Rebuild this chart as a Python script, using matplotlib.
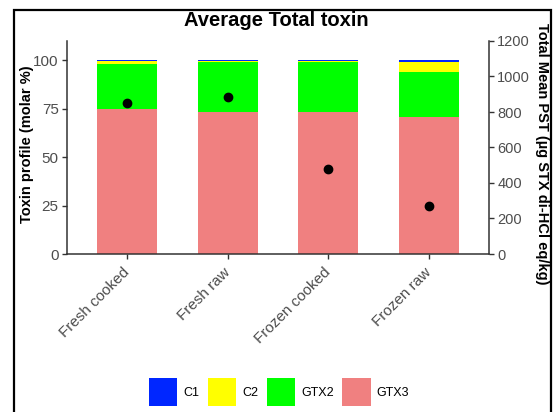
import matplotlib
matplotlib.use("Agg")
import matplotlib.pyplot as plt
from matplotlib.patches import Patch, Rectangle
import numpy as np

plt.rcParams['font.family'] = ['Liberation Sans', 'DejaVu Sans']

categories = ["Fresh cooked", "Fresh raw", "Frozen cooked", "Frozen raw"]
gtx3 = [74.9, 73.4, 73.4, 70.5]
gtx2 = [23.0, 25.4, 25.7, 23.5]
c2 = [1.5, 0.6, 0.3, 5.1]
c1 = [0.6, 0.6, 0.6, 0.9]
total_pst = [852, 885, 477, 272]

series_names = ["C1", "C2", "GTX2", "GTX3"]
colors = {"C1": "#0026FF", "C2": "#FFFF00", "GTX2": "#00FF00", "GTX3": "#F08080"}

W, H = 556, 412
fig = plt.figure(figsize=(W / 100, H / 100), dpi=100)
ax = fig.add_axes([67 / W, 1 - 254 / H, (489 - 67) / W, (254 - 41) / H])

x = np.arange(len(categories))
bottom = np.zeros(len(categories))
for name, vals in [("GTX3", gtx3), ("GTX2", gtx2), ("C2", c2), ("C1", c1)]:
    ax.bar(x, vals, width=0.6, bottom=bottom, color=colors[name], linewidth=0, zorder=2)
    bottom += np.array(vals)

ax.set_xlim(-0.6, 3.6)
ax.set_ylim(0, 109.8)
ax.set_yticks([0, 25, 50, 75, 100])
ax.set_xticks(x)
ax.set_xticklabels(categories, rotation=45, ha='right', va='center',
                   rotation_mode='anchor', fontsize=11, color='#4D4D4D')
ax.tick_params(axis='both', colors='#333333', length=3.5, width=1, labelsize=11,
               labelcolor='#4D4D4D', pad=2.5)
ax.tick_params(axis='x', pad=8)
for s in ['top', 'right']:
    ax.spines[s].set_visible(False)
for s in ['left', 'bottom']:
    ax.spines[s].set_color('#333333')
    ax.spines[s].set_linewidth(1.1)
ax.set_ylabel("Toxin profile (molar %)", fontsize=10.5, fontweight='bold', va='center')
ax.yaxis.set_label_coords((27 - 67) / 422, 0.515)

ax2 = ax.twinx()
ax2.plot(x, total_pst, 'o', color='black', markersize=6, zorder=5)
ax2.set_ylim(0, 1200)
ax2.set_yticks([0, 200, 400, 600, 800, 1000, 1200])
for s in ['top', 'left', 'bottom']:
    ax2.spines[s].set_visible(False)
ax2.spines['right'].set_color('#333333')
ax2.spines['right'].set_linewidth(1.1)
ax2.tick_params(axis='y', colors='#333333', length=3.5, width=1, labelsize=10.5,
                labelcolor='#4D4D4D', pad=2.5)
ax2.set_ylabel("Total Mean PST (µg STX di-HCl eq/kg)", fontsize=10.5,
               fontweight='bold', rotation=270, va='center')
ax2.yaxis.set_label_coords((542 - 67) / 422, 0.47)

fig.text(276 / W, 1 - 20 / H, "Average Total toxin", ha='center', va='center',
         fontsize=14.5, fontweight='bold')

handles = [Patch(facecolor=colors[n], edgecolor='none') for n in series_names]
leg = fig.legend(handles, series_names, loc='center', ncol=4,
                 bbox_to_anchor=(279 / W, 1 - 392 / H), frameon=False,
                 fontsize=9, handlelength=2.28, handleheight=3.13,
                 handletextpad=0.5, columnspacing=0.65)

fig.patches.append(Rectangle((13.5 / W, -0.05), (551 - 13.5) / W, 1.05 - 10 / H,
                             transform=fig.transFigure, fill=False,
                             edgecolor='black', linewidth=1.6, clip_on=False))

fig.savefig("out.png", dpi=100)
